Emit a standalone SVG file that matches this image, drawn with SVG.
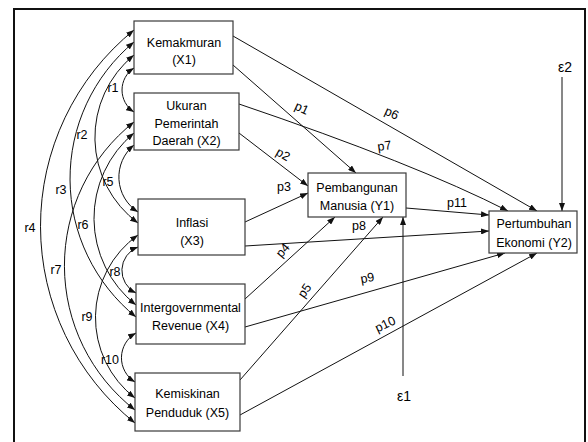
<svg xmlns="http://www.w3.org/2000/svg" width="588" height="442" viewBox="0 0 588 442">
<style>
.box{fill:#fff;stroke:#3a3a3a;stroke-width:1.2}
.t{font-family:"Liberation Sans",Arial,sans-serif;font-size:12.5px;fill:#000;text-anchor:middle}
.l{font-family:"Liberation Sans",Arial,sans-serif;font-size:12.5px;fill:#000;text-anchor:middle}
.e{font-family:"Liberation Sans",Arial,sans-serif;font-size:14px;fill:#000;text-anchor:middle}
.c{fill:none;stroke:#111;stroke-width:1;marker-end:url(#ah)}
.d{fill:none;stroke:#111;stroke-width:1;marker-start:url(#ah);marker-end:url(#ah)}
</style>
<defs>
<marker id="ah" markerUnits="userSpaceOnUse" markerWidth="9" markerHeight="6" refX="8" refY="3" orient="auto-start-reverse">
<path d="M0,0 L8,3 L0,6 z" fill="#111"/>
</marker>
</defs>
<rect x="0" y="0" width="588" height="442" fill="#fff"/>
<rect x="14" y="9" width="571" height="436" fill="none" stroke="#111" stroke-width="2"/>

<g id="connectors">
<!-- correlations -->
<path class="d" d="M134,68 A26.2,26.2 0 0 0 134,112"/>
<path class="d" d="M134,55 A106.5,106.5 0 0 0 138,223"/>
<path class="d" d="M134,42 A178,178 0 0 0 136,317"/>
<path class="d" d="M134,30 A252.4,252.4 0 0 0 135,423"/>
<path class="d" d="M134,145 A41.5,41.5 0 0 0 138,212"/>
<path class="d" d="M134,133 A110.7,110.7 0 0 0 136,305"/>
<path class="d" d="M134,122 A183,183 0 0 0 135,410"/>
<path class="d" d="M138,247 A25.1,25.1 0 0 0 136,293"/>
<path class="d" d="M138,235 A101.5,101.5 0 0 0 135,398"/>
<path class="d" d="M136,333 A28.4,28.4 0 0 0 135,382"/>
<!-- paths -->
<path class="c" d="M233,65 L356,173"/>
<path class="c" d="M233,36 L537,211"/>
<path class="c" d="M239,104 Q416,164 508,211"/>
<path class="c" d="M239,133 L308,186"/>
<path class="c" d="M245,222 L308,193"/>
<path class="c" d="M245,246 L489,231"/>
<path class="c" d="M406,208 L489,215"/>
<path class="c" d="M245,299 L335,217"/>
<path class="c" d="M245,327 L505,253"/>
<path class="c" d="M240,380 L383,217"/>
<path class="c" d="M240,415 L537,253"/>
<path class="c" d="M403,376 L403,217"/>
<path class="c" d="M562,77 L562,211"/>
</g>

<g id="labels">
<text class="l" x="113" y="92">r1</text>
<text class="l" x="82" y="139">r2</text>
<text class="l" x="61" y="194">r3</text>
<text class="l" x="30" y="232">r4</text>
<text class="l" x="108" y="186">r5</text>
<text class="l" x="83" y="229">r6</text>
<text class="l" x="56" y="274">r7</text>
<text class="l" x="115" y="276">r8</text>
<text class="l" x="87" y="321">r9</text>
<text class="l" x="110" y="364">r10</text>
<text class="l" transform="translate(300,112) rotate(25)">p1</text>
<text class="l" transform="translate(281,158) rotate(30)">p2</text>
<text class="l" x="284" y="191">p3</text>
<text class="l" transform="translate(286,253) rotate(-50)">p4</text>
<text class="l" transform="translate(308,293) rotate(-55)">p5</text>
<text class="l" transform="translate(390,117) rotate(25)">p6</text>
<text class="l" transform="translate(385,150) rotate(-8)">p7</text>
<text class="l" x="359" y="230">p8</text>
<text class="l" transform="translate(368,282) rotate(-10)">p9</text>
<text class="l" transform="translate(387,328) rotate(-25)">p10</text>
<text class="l" x="457" y="207">p11</text>
<text class="e" x="565" y="72">ε2</text>
<text class="e" x="404" y="401">ε1</text>
</g>

<g id="X1"><rect class="box" x="134" y="21" width="99" height="53"/>
<text class="t" x="184" y="46.5">Kemakmuran</text><text class="t" x="184" y="64">(X1)</text></g>
<g id="X2"><rect class="box" x="134" y="93" width="105" height="57"/>
<text class="t" x="186.5" y="110">Ukuran</text><text class="t" x="186.5" y="127.5">Pemerintah</text><text class="t" x="186.5" y="145">Daerah (X2)</text></g>
<g id="X3"><rect class="box" x="138" y="199" width="107" height="56"/>
<text class="t" x="192" y="226.5">Inflasi</text><text class="t" x="192" y="244.5">(X3)</text></g>
<g id="X4"><rect class="box" x="136" y="284" width="109" height="60"/>
<text class="t" x="190.5" y="311.5">Intergovernmental</text><text class="t" x="190.5" y="329.5">Revenue (X4)</text></g>
<g id="X5"><rect class="box" x="135" y="373" width="105" height="58"/>
<text class="t" x="187.5" y="397.5">Kemiskinan</text><text class="t" x="187.5" y="417">Penduduk (X5)</text></g>
<g id="Y1"><rect class="box" x="308" y="173" width="98" height="44"/>
<text class="t" x="357" y="191.5">Pembangunan</text><text class="t" x="357" y="209.5">Manusia (Y1)</text></g>
<g id="Y2"><rect class="box" x="489" y="211" width="88" height="42"/>
<text class="t" x="534" y="227.5">Pertumbuhan</text><text class="t" x="534" y="246.5">Ekonomi (Y2)</text></g>
</svg>
